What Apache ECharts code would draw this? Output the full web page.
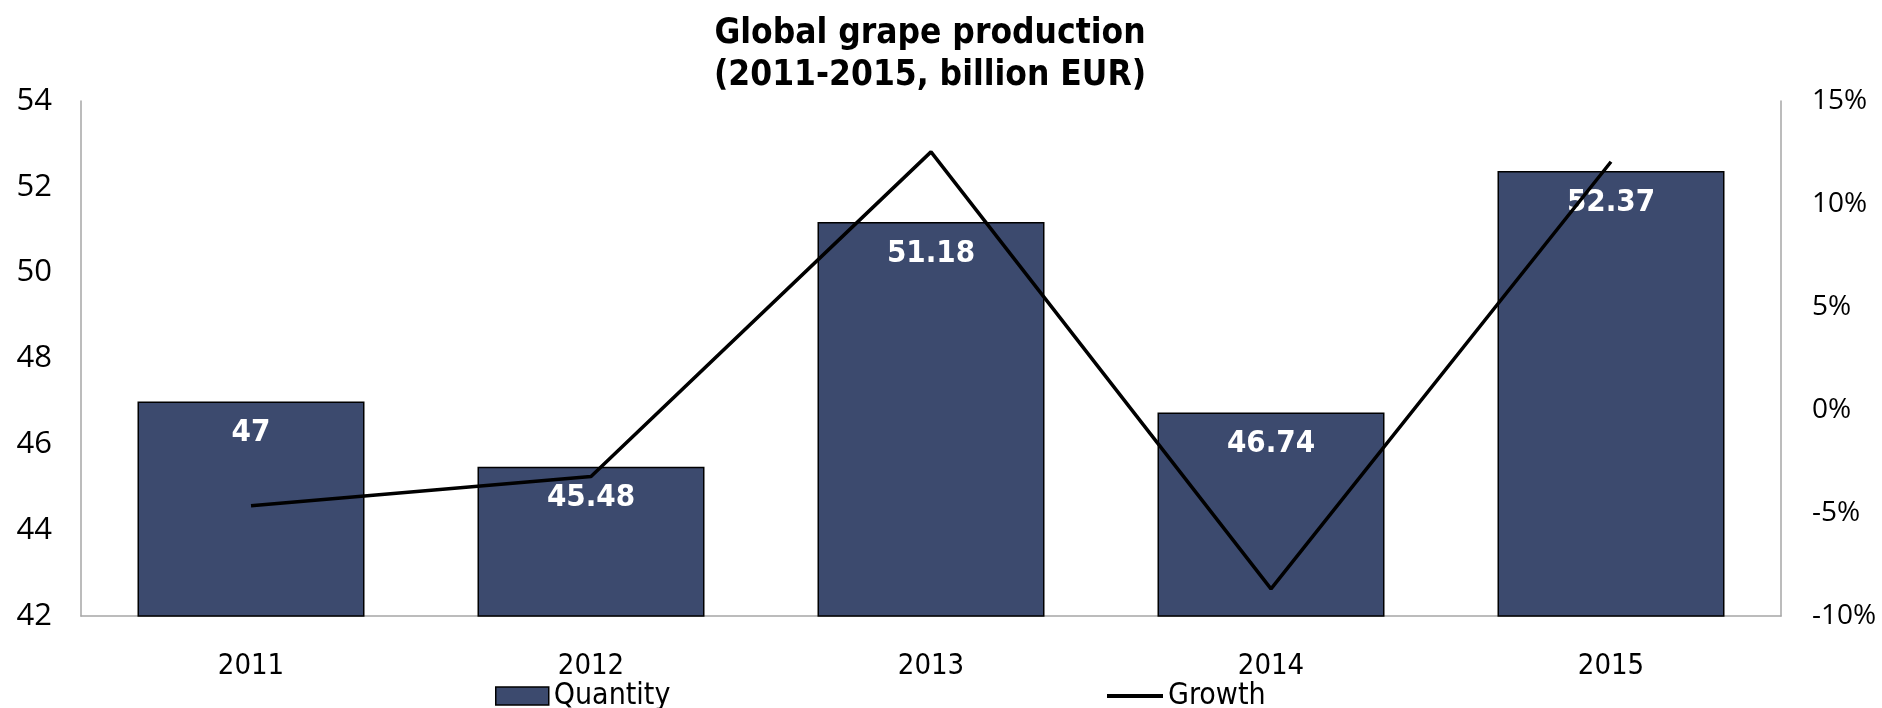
<!DOCTYPE html>
<html>
<head>
<meta charset="utf-8">
<script src="https://cdn.jsdelivr.net/npm/echarts@6/dist/echarts.min.js"></script>
<style>
  html, body { margin: 0; padding: 0; background: #fff; }
  #chart { width: 1882px; height: 708px; }
</style>
</head>
<body>
<div id="chart"></div>
<script>
const years = ["2011", "2012", "2013", "2014", "2015"];
const quantity = [47, 45.48, 51.18, 46.74, 52.37];
const growth = [-4.65, -3.23, 12.53, -8.68, 12.05];
const leftTicks = { min: 42, max: 54, interval: 2 };
const rightTicks = { min: -10, max: 15, interval: 5 };

const barColor = "#3c4a6e";
const axisGray = "#a6a6a6";
const condensed = "'DejaVu Sans Condensed', 'DejaVu Sans', sans-serif";
const sideFont = "'Open Sans', sans-serif";

const chart = echarts.init(document.getElementById("chart"));

const option = {
  animation: false,
  title: {
    text: "Global grape production\n(2011-2015, billion EUR)",
    left: 925,
    textAlign: "center",
    top: 8,
    textStyle: {
      fontFamily: condensed,
      fontWeight: "bold",
      fontSize: 35,
      lineHeight: 42,
      color: "#000",
    },
  },
  grid: {
    left: 81,
    right: 101,
    top: 101,
    bottom: 92,
    containLabel: false,
    outerBoundsMode: "none",
  },
  legend: [
    {
      data: ["Quantity"],
      left: 490,
      top: 676,
      icon: "rect",
      itemWidth: 53,
      itemHeight: 18,
      itemGap: 5,
      itemStyle: { borderColor: "#000", borderWidth: 1.5 },
      textStyle: { fontFamily: condensed, fontSize: 30, color: "#000" },
    },
    {
      data: ["Growth"],
      left: 1102,
      top: 676,
      icon: "rect",
      itemWidth: 56,
      itemHeight: 4,
      itemStyle: { color: "#000", borderWidth: 0 },
      textStyle: { fontFamily: condensed, fontSize: 30, color: "#000" },
    },
  ],
  xAxis: {
    type: "category",
    data: years,
    axisLine: { onZero: false, lineStyle: { color: axisGray, width: 1.5 } },
    axisTick: { show: false },
    axisLabel: {
      fontFamily: condensed,
      fontSize: 29,
      color: "#000",
      margin: 36,
    },
  },
  yAxis: [
    {
      type: "value",
      min: leftTicks.min,
      max: leftTicks.max,
      interval: leftTicks.interval,
      axisLine: { show: true, lineStyle: { color: axisGray, width: 1.5 } },
      axisTick: { show: false },
      splitLine: { show: false },
      axisLabel: {
        fontFamily: sideFont,
        fontSize: 31,
        color: "#000",
        margin: 29,
      },
    },
    {
      type: "value",
      min: rightTicks.min,
      max: rightTicks.max,
      interval: rightTicks.interval,
      position: "right",
      axisLine: { show: true, lineStyle: { color: axisGray, width: 1.5 } },
      axisTick: { show: false },
      splitLine: { show: false },
      axisLabel: {
        fontFamily: sideFont,
        fontSize: 28,
        color: "#000",
        margin: 31,
        formatter: "{value}%",
      },
    },
  ],
  series: [
    {
      name: "Quantity",
      type: "bar",
      data: quantity,
      barWidth: 227,
      itemStyle: {
        color: barColor,
        borderColor: "#000",
        borderWidth: 1.5,
      },
      label: {
        show: true,
        position: "insideTop",
        distance: 16,
        fontFamily: condensed,
        fontWeight: "bold",
        fontSize: 31,
        color: "#fff",
      },
    },
    {
      name: "Growth",
      type: "line",
      yAxisIndex: 1,
      data: growth,
      symbol: "none",
      lineStyle: { color: "#000", width: 3.5 },
      itemStyle: { color: "#000" },
      z: 3,
    },
  ],
};

chart.setOption(option);
</script>
</body>
</html>
